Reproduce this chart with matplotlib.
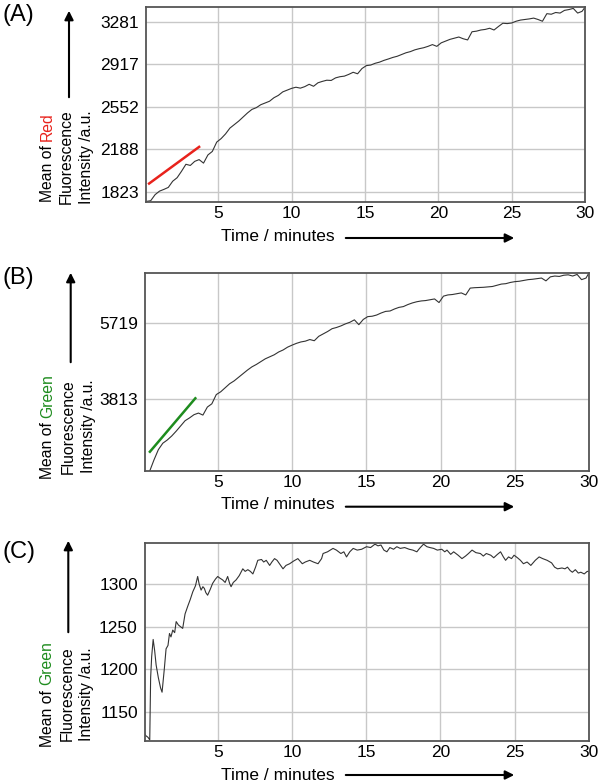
import matplotlib
matplotlib.use("Agg")
import matplotlib.pyplot as plt
from matplotlib.patches import FancyArrowPatch

plt.rcParams['font.family'] = ['Liberation Sans', 'DejaVu Sans']

# ---------------- data ----------------
time_ab = [0.1, 0.4, 0.7, 1.0, 1.3, 1.6, 1.9, 2.2, 2.5, 2.8, 3.1, 3.4, 3.7, 4.0, 4.3, 4.6, 4.9,
           5.2, 5.5, 5.8, 6.1, 6.4, 6.7, 7.0, 7.3, 7.6, 7.9, 8.2, 8.5, 8.8, 9.1, 9.4, 9.7, 10.0,
           10.3, 10.6, 10.9, 11.2, 11.5, 11.8, 12.1, 12.4, 12.7, 13.0, 13.3, 13.6, 13.9, 14.2,
           14.5, 14.8, 15.1, 15.4, 15.7, 16.0, 16.3, 16.6, 16.9, 17.2, 17.5, 17.8, 18.1, 18.4,
           18.7, 19.0, 19.3, 19.6, 19.9, 20.2, 20.5, 20.8, 21.1, 21.4, 21.7, 22.0, 22.3, 22.6,
           22.9, 23.2, 23.5, 23.8, 24.1, 24.4, 24.7, 25.0, 25.3, 25.6, 25.9, 26.2, 26.5, 26.8,
           27.1, 27.4, 27.7, 28.0, 28.3, 28.6, 28.9, 29.2, 29.5, 29.8, 30.0]

red_mean = [1742, 1748, 1800, 1830, 1845, 1862, 1915, 1945, 2000, 2060, 2050, 2085, 2100, 2070,
            2140, 2170, 2250, 2280, 2320, 2370, 2400, 2430, 2465, 2500, 2530, 2545, 2570, 2585,
            2600, 2630, 2650, 2680, 2695, 2710, 2720, 2712, 2725, 2745, 2728, 2758, 2770, 2780,
            2778, 2800, 2810, 2815, 2830, 2848, 2835, 2880, 2905, 2910, 2925, 2935, 2950, 2962,
            2975, 2985, 3000, 3015, 3025, 3040, 3050, 3058, 3070, 3085, 3070, 3100, 3115, 3130,
            3140, 3150, 3135, 3125, 3195, 3200, 3210, 3215, 3225, 3210, 3240, 3268, 3265, 3270,
            3285, 3295, 3300, 3305, 3312, 3300, 3285, 3350, 3345, 3360, 3355, 3378, 3385, 3395,
            3355, 3370, 3405]

green_mean_b = [2010, 2300, 2560, 2720, 2800, 2900, 3020, 3150, 3280, 3350, 3430, 3470, 3420,
                3620, 3700, 3930, 4000, 4100, 4200, 4270, 4360, 4450, 4540, 4620, 4680, 4750,
                4820, 4870, 4920, 4990, 5040, 5110, 5160, 5205, 5240, 5260, 5300, 5270, 5380,
                5440, 5500, 5570, 5600, 5640, 5690, 5730, 5790, 5670, 5800, 5870, 5880, 5910,
                5960, 6000, 6010, 6060, 6100, 6120, 6170, 6210, 6240, 6260, 6270, 6290, 6310,
                6220, 6380, 6410, 6420, 6440, 6460, 6410, 6580, 6590, 6595, 6600, 6610, 6620,
                6650, 6680, 6690, 6720, 6740, 6750, 6770, 6790, 6800, 6815, 6830, 6760, 6860,
                6880, 6870, 6900, 6910, 6880, 6920, 6790, 6830, 6960]

time_c = [0.05, 0.15, 0.3, 0.42, 0.48, 0.55, 0.65, 0.75, 0.85, 1.0, 1.15, 1.25, 1.4, 1.52, 1.65,
          1.75, 1.85, 1.97, 2.1, 2.2, 2.35, 2.5, 2.64, 2.8, 2.98, 3.15, 3.32, 3.5, 3.65, 3.75,
          3.88, 4.0, 4.1, 4.2, 4.32, 4.5, 4.66, 4.85, 5.0, 5.15, 5.33, 5.5, 5.67, 5.8, 5.9, 6.05,
          6.24, 6.45, 6.69, 6.85, 7.03, 7.2, 7.37, 7.55, 7.7, 7.95, 8.1, 8.27, 8.5, 8.65, 8.83,
          9.0, 9.2, 9.4, 9.6, 9.85, 10.1, 10.4, 10.7, 10.9, 11.2, 11.45, 11.76, 12.0, 12.1, 12.4,
          12.77, 13.0, 13.3, 13.5, 13.68, 13.9, 14.13, 14.4, 14.7, 15.03, 15.3, 15.6, 15.8, 16.0,
          16.2, 16.4, 16.6, 16.85, 17.07, 17.3, 17.6, 17.9, 18.15, 18.42, 18.6, 18.87, 19.1,
          19.3, 19.55, 19.8, 20.1, 20.3, 20.45, 20.7, 20.9, 21.2, 21.46, 21.7, 21.9, 22.14, 22.4,
          22.7, 22.9, 23.1, 23.4, 23.6, 23.85, 24.06, 24.25, 24.4, 24.6, 24.8, 24.97, 25.2, 25.4,
          25.6, 25.85, 26.1, 26.4, 26.66, 26.9, 27.2, 27.5, 27.7, 27.9, 28.2, 28.4, 28.57, 28.75,
          28.9, 29.1, 29.3, 29.47, 29.7, 29.9, 30.0]

green_mean_c = [1125, 1122, 1120, 1117, 1190, 1215, 1235, 1222, 1205, 1190, 1178, 1173, 1200,
                1224, 1228, 1242, 1238, 1246, 1243, 1256, 1252, 1250, 1248, 1265, 1274, 1282,
                1291, 1298, 1309, 1300, 1293, 1297, 1295, 1290, 1287, 1294, 1301, 1306, 1309,
                1307, 1305, 1302, 1309, 1301, 1297, 1302, 1305, 1310, 1318, 1315, 1317, 1315,
                1312, 1320, 1328, 1329, 1326, 1328, 1322, 1326, 1330, 1328, 1323, 1318, 1322,
                1324, 1327, 1330, 1324, 1326, 1328, 1326, 1324, 1330, 1336, 1338, 1342, 1340,
                1336, 1338, 1332, 1338, 1342, 1340, 1341, 1344, 1343, 1347, 1345, 1346, 1340,
                1338, 1343, 1341, 1344, 1342, 1343, 1341, 1340, 1338, 1342, 1347, 1344, 1343,
                1342, 1340, 1341, 1338, 1340, 1335, 1338, 1334, 1330, 1333, 1336, 1340, 1337,
                1336, 1333, 1336, 1334, 1331, 1335, 1338, 1332, 1328, 1332, 1330, 1334, 1331,
                1328, 1324, 1326, 1322, 1328, 1332, 1330, 1328, 1325, 1320, 1318, 1319, 1318,
                1320, 1316, 1314, 1317, 1313, 1314, 1312, 1315, 1315]

red_fit_t = [0.29, 3.7]
red_fit_v = [1895, 2209]
green_fit_t = [0.43, 3.49]
green_fit_v = [2508, 3838]

x_ticks = [5, 10, 15, 20, 25, 30]
yticks_a = [1823, 2188, 2552, 2917, 3281]
yticks_b = [3813, 5719]
yticks_c = [1150, 1200, 1250, 1300]

# ---------------- figure ----------------
W, H = 600, 782
fig = plt.figure(figsize=(W / 100, H / 100), dpi=100)

def fx(px):
    return px / W

def fy(py):
    return 1 - py / H

def make_axes(left, right, top, bottom):
    return fig.add_axes([fx(left), fy(bottom), fx(right) - fx(left), fy(top) - fy(bottom)])

ax_a = make_axes(146, 585, 7, 202)
ax_b = make_axes(144.7, 589, 272.7, 470.7)
ax_c = make_axes(144.7, 588.7, 543.3, 740.7)

GRID = '#c8c8c8'
FRAME = '#555555'
LINE = '#333333'
GREEN = '#1e8c1e'
RED = '#e8221c'

def style(ax, ylim, yticks):
    ax.set_xlim(0.08, 30)
    ax.set_ylim(*ylim)
    ax.set_xticks(x_ticks)
    ax.set_yticks(yticks)
    ax.set_xticklabels([str(t) for t in x_ticks])
    ax.set_yticklabels([str(t) for t in yticks])
    ax.tick_params(length=0, labelsize=12.5, colors='black')
    ax.tick_params(axis='y', pad=5)
    ax.tick_params(axis='x', pad=3)
    ax.grid(True, color=GRID, lw=1.0)
    ax.set_axisbelow(True)
    for s in ax.spines.values():
        s.set_color(FRAME)
        s.set_linewidth(1.3)

ax_a.plot(time_ab, red_mean, color=LINE, lw=0.8)
ax_a.plot(red_fit_t, red_fit_v, color=RED, lw=1.8)
style(ax_a, (1737, 3407), yticks_a)

ax_b.plot(time_ab[1:], green_mean_b, color=LINE, lw=0.8)
ax_b.plot(green_fit_t, green_fit_v, color=GREEN, lw=1.8)
style(ax_b, (2036, 6963), yticks_b)

ax_c.plot(time_c, green_mean_c, color=LINE, lw=0.8)
style(ax_c, (1116, 1348), yticks_c)

# ---------------- annotations ----------------
renderer = fig.canvas.get_renderer()
YFS = 11.3

def arrow(p0, p1):
    a = FancyArrowPatch((fx(p0[0]), fy(p0[1])), (fx(p1[0]), fy(p1[1])),
                        transform=fig.transFigure, arrowstyle='-|>',
                        mutation_scale=13, lw=1.5, color='black')
    fig.add_artist(a)

def ylabel(xs, yc_px, word, wcolor, arrow_x, arrow_y0, arrow_y1):
    yc = fy(yc_px)
    tmp = fig.text(fx(xs[0]), yc, "Mean of " + word, rotation=90, ha='center',
                   va='center', fontsize=YFS)
    bb = tmp.get_window_extent(renderer)
    tmp.remove()
    hfrac = bb.height / H
    fig.text(fx(xs[0]), yc - hfrac / 2, "Mean of", rotation=90, ha='center',
             va='bottom', fontsize=YFS)
    fig.text(fx(xs[0]), yc + hfrac / 2, word, rotation=90, ha='center',
             va='top', fontsize=YFS, color=wcolor)
    fig.text(fx(xs[1]), yc, "Fluorescence", rotation=90, ha='center', va='center',
             fontsize=YFS)
    fig.text(fx(xs[2]), yc, "Intensity /a.u.", rotation=90, ha='center', va='center',
             fontsize=YFS)
    arrow((arrow_x, arrow_y0), (arrow_x, arrow_y1))

def xlabel(y_text, y_arrow):
    fig.text(fx(221), fy(y_text), "Time / minutes", ha='left', va='center', fontsize=12.5)
    arrow((343, y_arrow), (517, y_arrow))

ylabel((47, 66, 86), 157, "Red", RED, 69, 100, 8)
ylabel((48, 68, 88), 426.5, "Green", GREEN, 70.7, 365, 270)
ylabel((47, 67, 86), 694, "Green", GREEN, 68.3, 635, 538)

xlabel(236.7, 238)
xlabel(505, 506.7)
xlabel(775, 775)

for lab, yy in (("(A)", 15), ("(B)", 278), ("(C)", 551.7)):
    fig.text(fx(3), fy(yy), lab, ha='left', va='center', fontsize=17)

fig.savefig("out.png", dpi=100)
